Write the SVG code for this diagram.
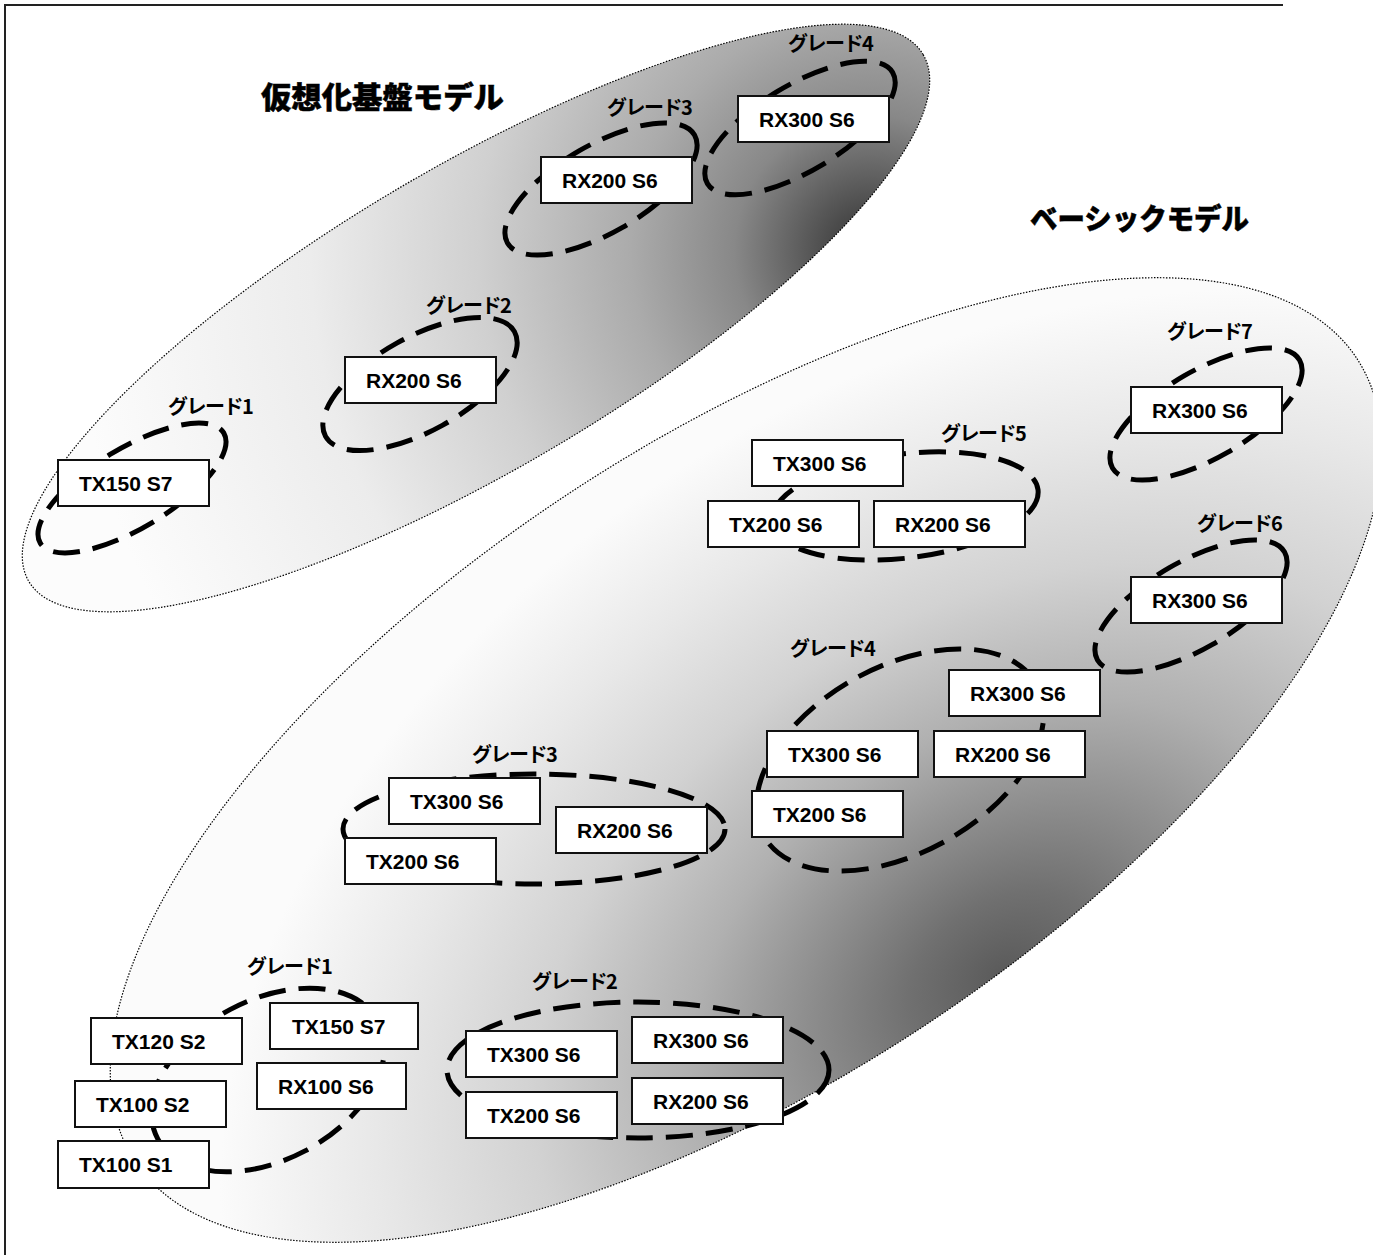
<svg xmlns="http://www.w3.org/2000/svg" width="1373" height="1255" viewBox="0 0 1373 1255">
<defs>
<radialGradient id="gU" gradientUnits="userSpaceOnUse" cx="374" cy="142" r="800">
<stop offset="0" stop-color="#404040"/>
<stop offset="0.05" stop-color="#4a4a4a"/>
<stop offset="0.17" stop-color="#888888"/>
<stop offset="0.3" stop-color="#ababab"/>
<stop offset="0.49" stop-color="#d0d0d0"/>
<stop offset="0.7" stop-color="#ececec"/>
<stop offset="1" stop-color="#fcfcfc"/>
</radialGradient>
<radialGradient id="gB" gradientUnits="userSpaceOnUse" cx="0" cy="0" r="1" gradientTransform="translate(97,320) scale(850,600)">
<stop offset="0" stop-color="#5a5a5a"/>
<stop offset="0.12" stop-color="#707070"/>
<stop offset="0.4" stop-color="#b0b0b0"/>
<stop offset="0.6" stop-color="#d2d2d2"/>
<stop offset="0.8" stop-color="#e8e8e8"/>
<stop offset="1" stop-color="#fbfbfb"/>
</radialGradient>
<style>
.area{stroke:#000;stroke-width:1.2;stroke-dasharray:1.5 1.5}
.grade{fill:none;stroke:#000;stroke-width:5;stroke-dasharray:27 13}
.node rect{fill:#fff;stroke:#111;stroke-width:2}
.node text{font-family:"Liberation Sans",Arial,sans-serif;font-weight:bold;font-size:21px;fill:#000}
.lbl{font-family:"Noto Sans CJK JP",sans-serif;font-weight:bold;font-size:20px;letter-spacing:-1.5px;fill:#000}
.title{font-family:"Noto Sans CJK JP",sans-serif;font-weight:900;fill:#000;stroke:#000;stroke-width:0.5}
.frame{stroke:#222;stroke-width:2;fill:none}
</style>
</defs>
<rect x="0" y="0" width="1373" height="1255" fill="#fff"/>
<path class="frame" d="M5,1255 V5 H1283"/>

<g id="areas">
<ellipse id="area-basic" class="area" cx="0" cy="0" rx="731" ry="320" fill="url(#gB)" transform="translate(746,760) rotate(-33.3)"/>
<ellipse id="area-virtual" class="area" cx="0" cy="0" rx="519" ry="151" fill="url(#gU)" transform="translate(476,318) rotate(-30.5)"/>
</g>

<g id="titles">
<text class="title" x="261" y="108" font-size="30" textLength="243" lengthAdjust="spacingAndGlyphs">仮想化基盤モデル</text>
<text class="title" x="1030" y="230" font-size="29" textLength="219" lengthAdjust="spacingAndGlyphs">ベーシックモデル</text>
</g>

<g id="grades">
<ellipse class="grade" cx="0" cy="0" rx="107" ry="40" transform="translate(132,488) rotate(-31)"/>
<ellipse class="grade" cx="0" cy="0" rx="108" ry="47" transform="translate(420,384) rotate(-29)"/>
<ellipse class="grade" cx="0" cy="0" rx="108" ry="44" transform="translate(601,189) rotate(-30)"/>
<ellipse class="grade" cx="0" cy="0" rx="108" ry="43" transform="translate(800,128) rotate(-31)"/>
<ellipse class="grade" cx="0" cy="0" rx="108" ry="44" transform="translate(1206,414) rotate(-30)"/>
<ellipse class="grade" cx="0" cy="0" rx="108" ry="44" transform="translate(1191,606) rotate(-30)"/>
<ellipse class="grade" cx="0" cy="0" rx="134" ry="52" transform="translate(905,506) rotate(-7)"/>
<ellipse class="grade" cx="0" cy="0" rx="156" ry="93" transform="translate(900,760) rotate(-29)"/>
<ellipse class="grade" cx="534" cy="829" rx="191" ry="55"/>
<ellipse class="grade" cx="638" cy="1070" rx="191" ry="68"/>
<ellipse class="grade" cx="0" cy="0" rx="125" ry="80" transform="translate(268,1080) rotate(-28)"/>
</g>

<g id="u-g1-tx150s7" class="node"><rect x="58" y="460" width="151" height="46"/><text x="79" y="491">TX150 S7</text></g>
<g id="u-g2-rx200s6" class="node"><rect x="345" y="357" width="151" height="46"/><text x="366" y="388">RX200 S6</text></g>
<g id="u-g3-rx200s6" class="node"><rect x="541" y="157" width="151" height="46"/><text x="562" y="188">RX200 S6</text></g>
<g id="u-g4-rx300s6" class="node"><rect x="738" y="96" width="151" height="46"/><text x="759" y="127">RX300 S6</text></g>

<g id="b-g7-rx300s6" class="node"><rect x="1131" y="387" width="151" height="46"/><text x="1152" y="418">RX300 S6</text></g>
<g id="b-g6-rx300s6" class="node"><rect x="1131" y="577" width="151" height="46"/><text x="1152" y="608">RX300 S6</text></g>
<g id="b-g5-tx300s6" class="node"><rect x="752" y="440" width="151" height="46"/><text x="773" y="471">TX300 S6</text></g>
<g id="b-g5-tx200s6" class="node"><rect x="708" y="501" width="151" height="46"/><text x="729" y="532">TX200 S6</text></g>
<g id="b-g5-rx200s6" class="node"><rect x="874" y="501" width="151" height="46"/><text x="895" y="532">RX200 S6</text></g>
<g id="b-g4-rx300s6" class="node"><rect x="949" y="670" width="151" height="46"/><text x="970" y="701">RX300 S6</text></g>
<g id="b-g4-tx300s6" class="node"><rect x="767" y="731" width="151" height="46"/><text x="788" y="762">TX300 S6</text></g>
<g id="b-g4-rx200s6" class="node"><rect x="934" y="731" width="151" height="46"/><text x="955" y="762">RX200 S6</text></g>
<g id="b-g4-tx200s6" class="node"><rect x="752" y="791" width="151" height="46"/><text x="773" y="822">TX200 S6</text></g>
<g id="b-g3-tx300s6" class="node"><rect x="389" y="778" width="151" height="46"/><text x="410" y="809">TX300 S6</text></g>
<g id="b-g3-rx200s6" class="node"><rect x="556" y="807" width="151" height="46"/><text x="577" y="838">RX200 S6</text></g>
<g id="b-g3-tx200s6" class="node"><rect x="345" y="838" width="151" height="46"/><text x="366" y="869">TX200 S6</text></g>
<g id="b-g2-tx300s6" class="node"><rect x="466" y="1031" width="151" height="46"/><text x="487" y="1062">TX300 S6</text></g>
<g id="b-g2-rx300s6" class="node"><rect x="632" y="1017" width="151" height="46"/><text x="653" y="1048">RX300 S6</text></g>
<g id="b-g2-tx200s6" class="node"><rect x="466" y="1092" width="151" height="46"/><text x="487" y="1123">TX200 S6</text></g>
<g id="b-g2-rx200s6" class="node"><rect x="632" y="1078" width="151" height="46"/><text x="653" y="1109">RX200 S6</text></g>
<g id="b-g1-tx120s2" class="node"><rect x="91" y="1018" width="151" height="46"/><text x="112" y="1049">TX120 S2</text></g>
<g id="b-g1-tx150s7" class="node"><rect x="270" y="1003" width="148" height="46"/><text x="292" y="1034">TX150 S7</text></g>
<g id="b-g1-rx100s6" class="node"><rect x="257" y="1063" width="149" height="46"/><text x="278" y="1094">RX100 S6</text></g>
<g id="b-g1-tx100s2" class="node"><rect x="75" y="1081" width="151" height="46"/><text x="96" y="1112">TX100 S2</text></g>
<g id="b-g1-tx100s1" class="node"><rect x="58" y="1141" width="151" height="47"/><text x="79" y="1172">TX100 S1</text></g>

<g id="labels">
<text class="lbl" x="168" y="414">グレード1</text>
<text class="lbl" x="426" y="313">グレード2</text>
<text class="lbl" x="607" y="115">グレード3</text>
<text class="lbl" x="788" y="51">グレード4</text>
<text class="lbl" x="1167" y="339">グレード7</text>
<text class="lbl" x="1197" y="531">グレード6</text>
<text class="lbl" x="941" y="441">グレード5</text>
<text class="lbl" x="790" y="656">グレード4</text>
<text class="lbl" x="472" y="762">グレード3</text>
<text class="lbl" x="532" y="989">グレード2</text>
<text class="lbl" x="247" y="974">グレード1</text>
</g>
</svg>
